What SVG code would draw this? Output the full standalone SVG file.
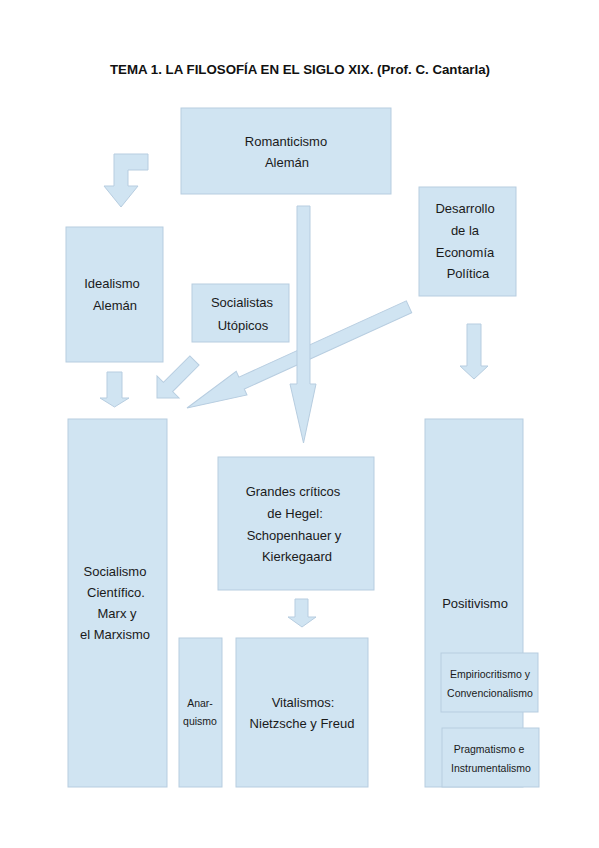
<svg xmlns="http://www.w3.org/2000/svg" width="599" height="848" viewBox="0 0 599 848">
<style>
.box{fill:#d0e4f2;stroke:#b7cde0;stroke-width:1}
.arr{fill:#d0e4f2;stroke:#b7cde0;stroke-width:1;stroke-linejoin:miter}
.t{font-family:"Liberation Sans",Arial,sans-serif;font-size:13px;fill:#1a1a1a;text-anchor:middle}
.s{font-family:"Liberation Sans",Arial,sans-serif;font-size:10.5px;fill:#1a1a1a;text-anchor:middle}
.title{font-family:"Liberation Sans",Arial,sans-serif;font-size:12px;font-weight:bold;fill:#111;text-anchor:middle}
</style>
<rect width="599" height="848" fill="#ffffff"/>
<text class="title" x="300" y="74" textLength="380" lengthAdjust="spacingAndGlyphs">TEMA 1. LA FILOSOFÍA EN EL SIGLO XIX. (Prof. C. Cantarla)</text>

<g id="connectors">
  <polygon class="arr" points="114,154 148,154 148,170 128,170 128,186 138,186 121,207 104,186 114,186"/>
  <polygon class="arr" points="107,372 122,372 122,398 129,398 114.5,407 100,398 107,398"/>
  <polygon class="arr" transform="translate(157,398) rotate(-45)" points="0,0 15.6,-15.6 15.6,-6.5 53,-6.5 53,6.5 15.6,6.5 15.6,15.6"/>
  <polygon class="arr" transform="translate(187,408) rotate(-24.5)" points="0,0 60,-13 60,-6.5 244,-6.5 244,6.5 60,6.5 60,13"/>
  <polygon class="arr" points="297,206 310,206 310,384 316,384 303.5,443 290,384 297,384"/>
  <polygon class="arr" points="467,324 481,324 481,366 488,366 474,379 460,366 467,366"/>
  <polygon class="arr" points="295,599 308,599 308,617 316,617 302,627 288,617 295,617"/>
</g>

<g id="romanticismo">
  <rect class="box" x="181" y="108" width="210" height="86"/>
  <text class="t" x="286" y="146">Romanticismo</text>
  <text class="t" x="287" y="167">Alemán</text>
</g>
<g id="desarrollo">
  <rect class="box" x="419" y="187" width="97" height="109"/>
  <text class="t" x="465" y="213">Desarrollo</text>
  <text class="t" x="465" y="235">de la</text>
  <text class="t" x="465" y="257">Economía</text>
  <text class="t" x="468" y="278">Política</text>
</g>
<g id="idealismo">
  <rect class="box" x="66" y="227" width="97" height="135"/>
  <text class="t" x="112" y="288">Idealismo</text>
  <text class="t" x="115" y="310">Alemán</text>
</g>
<g id="socialistas-utopicos">
  <rect class="box" x="192" y="284" width="97" height="58"/>
  <text class="t" x="242" y="307">Socialistas</text>
  <text class="t" x="243" y="330">Utópicos</text>
</g>
<g id="socialismo-cientifico">
  <rect class="box" x="68" y="419" width="99" height="368"/>
  <text class="t" x="115" y="576">Socialismo</text>
  <text class="t" x="116" y="597">Científico.</text>
  <text class="t" x="117" y="618">Marx y</text>
  <text class="t" x="115" y="639">el Marxismo</text>
</g>
<g id="grandes-criticos">
  <rect class="box" x="218" y="457" width="156" height="133"/>
  <text class="t" x="293" y="496">Grandes críticos</text>
  <text class="t" x="295" y="518">de Hegel:</text>
  <text class="t" x="294" y="540">Schopenhauer y</text>
  <text class="t" x="297" y="561">Kierkegaard</text>
</g>
<g id="anarquismo">
  <rect class="box" x="179" y="638" width="43" height="149"/>
  <text class="s" x="200" y="707">Anar-</text>
  <text class="s" x="200" y="725">quismo</text>
</g>
<g id="vitalismos">
  <rect class="box" x="236" y="638" width="132" height="149"/>
  <text class="t" x="303" y="707">Vitalismos:</text>
  <text class="t" x="302" y="728">Nietzsche y Freud</text>
</g>
<g id="positivismo">
  <rect class="box" x="425" y="419" width="98" height="368"/>
  <text class="t" x="475" y="608">Positivismo</text>
</g>
<g id="empiriocritismo">
  <rect class="box" x="441" y="653" width="97" height="59"/>
  <text class="s" x="490" y="678">Empiriocritismo y</text>
  <text class="s" x="490" y="697">Convencionalismo</text>
</g>
<g id="pragmatismo">
  <rect class="box" x="442" y="728" width="97" height="59"/>
  <text class="s" x="489" y="753">Pragmatismo e</text>
  <text class="s" x="491" y="772">Instrumentalismo</text>
</g>
</svg>
